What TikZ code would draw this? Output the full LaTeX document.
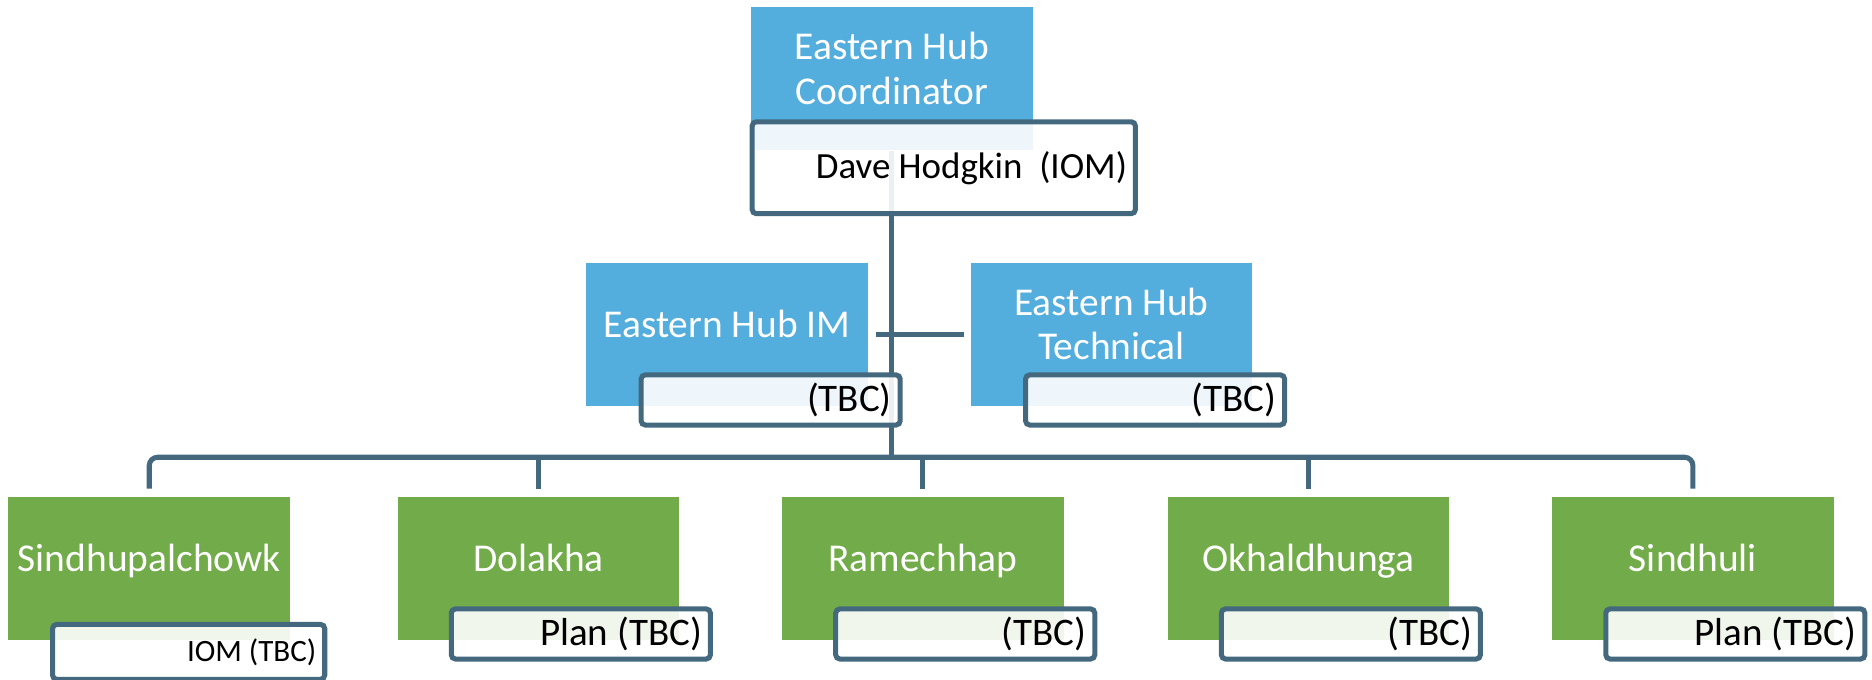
\documentclass[tikz,border=0pt]{standalone}
\usepackage{fontspec}
\setmainfont{Carlito}
\usepackage{xcolor}
\usepackage{tikz}
\usetikzlibrary{backgrounds}
\definecolor{hubblue}{HTML}{53ADDD}
\definecolor{distgreen}{HTML}{72AB49}
\definecolor{linkc}{HTML}{44697F}

\begin{document}
\begin{tikzpicture}
[hub/.style={rectangle,fill=hubblue,text=white,minimum width=2.36cm,minimum height=1.2cm,inner sep=0pt,align=center,text depth=5pt,font=\fontsize{9.4}{10.6}\selectfont},
dist/.style={rectangle,fill=distgreen,text=white,minimum width=2.36cm,minimum height=1.2cm,inner sep=0pt,text depth=5pt,font=\fontsize{9.4}{10.6}\selectfont},
tagg/.style={rectangle,draw=linkc,line width=1.2pt,rounded corners=1pt,fill=white,fill opacity=0.9,text opacity=1,align=flush right,inner xsep=0.07cm,inner ysep=0pt,text width=2.03cm,minimum height=0.42cm,font=\fontsize{9.3}{11}\selectfont},
link/.style={draw=linkc,line width=1.2pt}]

\useasboundingbox (0,0) rectangle (15.68,-5.69);

% hub staff
\node at (7.47,-0.66)  [hub]  (coord)  {Eastern Hub\\Coordinator};
\node at (7.905,-1.405) [tagg,text width=3.07cm,minimum height=0.77cm,font=\fontsize{8.8}{10}\selectfont] (coordt) {Dave Hodgkin\ \ (IOM)};
\node at (6.09,-2.80)  [hub]  (im)     {Eastern Hub IM};
\node at (6.455,-3.35) [tagg] (imt)    {(TBC)};
\node at (9.31,-2.80)  [hub]  (tech)   {Eastern Hub\\Technical};
\node at (9.675,-3.35) [tagg] (techt)  {(TBC)};

% districts
\node at (1.25,-4.76)  [dist] (sindh)  {Sindhupalchowk};
\node at (4.51,-4.76)  [dist] (dolak)  {Dolakha};
\node at (7.73,-4.76)  [dist] (ramec)  {Ramechhap};
\node at (10.96,-4.76) [dist] (okhal)  {Okhaldhunga};
\node at (14.18,-4.76) [dist] (sindl)  {Sindhuli};
\node at (1.58,-5.46)   [tagg,text width=2.14cm,minimum height=0.46cm,font=\fontsize{7.4}{9}\selectfont] (sindht) {IOM (TBC)};
\node at (4.865,-5.31)  [tagg] (dolakt) {Plan (TBC)};
\node at (8.085,-5.31)  [tagg] (ramect) {(TBC)};
\node at (11.315,-5.31) [tagg] (okhalt) {(TBC)};
\node at (14.535,-5.31) [tagg] (sindlt) {Plan (TBC)};

\coordinate (bus) at (7.47,-3.83);
\begin{scope}[on background layer]
\draw [link] (coord) -- (coord |- bus);
\draw [link,shorten <=0.06cm,shorten >=0.05cm] (im.east) -- (tech.west);
\draw [link,rounded corners=2pt] ([yshift=0.06cm]sindh.north) |- (bus) -| ([yshift=0.06cm]sindl.north);
\foreach \n in {dolak,ramec,okhal}
  \draw [link] ([yshift=0.06cm]\n.north) -- (\n.north |- bus);
\end{scope}
\end{tikzpicture}
\end{document}
